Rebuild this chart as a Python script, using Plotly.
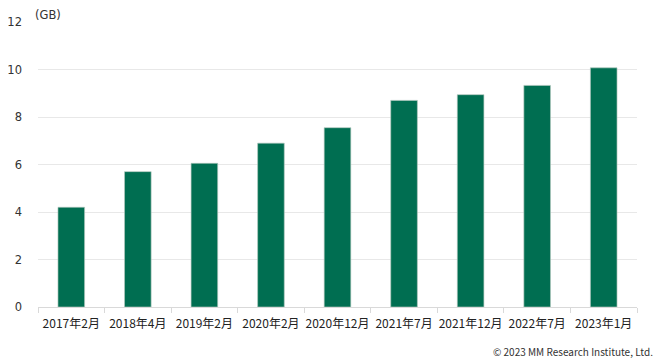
import plotly.graph_objects as go

categories = ["2017年2月", "2018年4月", "2019年2月", "2020年2月", "2020年12月",
              "2021年7月", "2021年12月", "2022年7月", "2023年1月"]
values = [4.2, 5.7, 6.05, 6.9, 7.55, 8.7, 8.94, 9.33, 10.07]
y_ticks = [0, 2, 4, 6, 8, 10, 12]

font_family = "Noto Sans CJK JP, Noto Sans, sans-serif"

fig = go.Figure(go.Bar(
    x=categories, y=values,
    marker=dict(color="#006e51", line=dict(color="rgba(180,200,190,0.8)", width=0.8)),
    width=0.4,
))

fig.update_layout(
    width=665, height=364,
    margin=dict(l=38, r=28, t=22, b=57, autoexpand=False),
    paper_bgcolor="white", plot_bgcolor="white",
    showlegend=False,
    font=dict(family=font_family, size=11, color="#333333"),
)
fig.update_yaxes(
    range=[0, 12], tickvals=y_ticks, showgrid=True, gridcolor="#e8e8e8", gridwidth=1,
    zeroline=False, showline=False, ticks="", ticklabelstandoff=15,
    tickfont=dict(family="DejaVu Sans, sans-serif", size=11.5, color="#333333"),
)
fig.update_xaxes(
    showline=True, linecolor="#d9d9d9", linewidth=1,
    ticks="outside", tickson="boundaries", ticklen=5, tickcolor="#d9d9d9",
    tickfont=dict(size=12, color="#222222"), tickangle=0,
    ticklabelstandoff=6,
)
fig.add_annotation(text="(GB)", xref="paper", yref="paper", x=-0.008, y=1.0,
                   xanchor="left", yanchor="bottom", showarrow=False,
                   font=dict(family="DejaVu Sans, sans-serif", size=11.5, color="#333333"),
                   yshift=-2)
fig.add_annotation(text="© 2023 MM Research Institute, Ltd.", xref="paper", yref="paper",
                   x=1.03, y=0, xanchor="right", yanchor="top", yshift=-35,
                   showarrow=False, font=dict(size=10, color="#333333"))

fig.write_html("out.html")
